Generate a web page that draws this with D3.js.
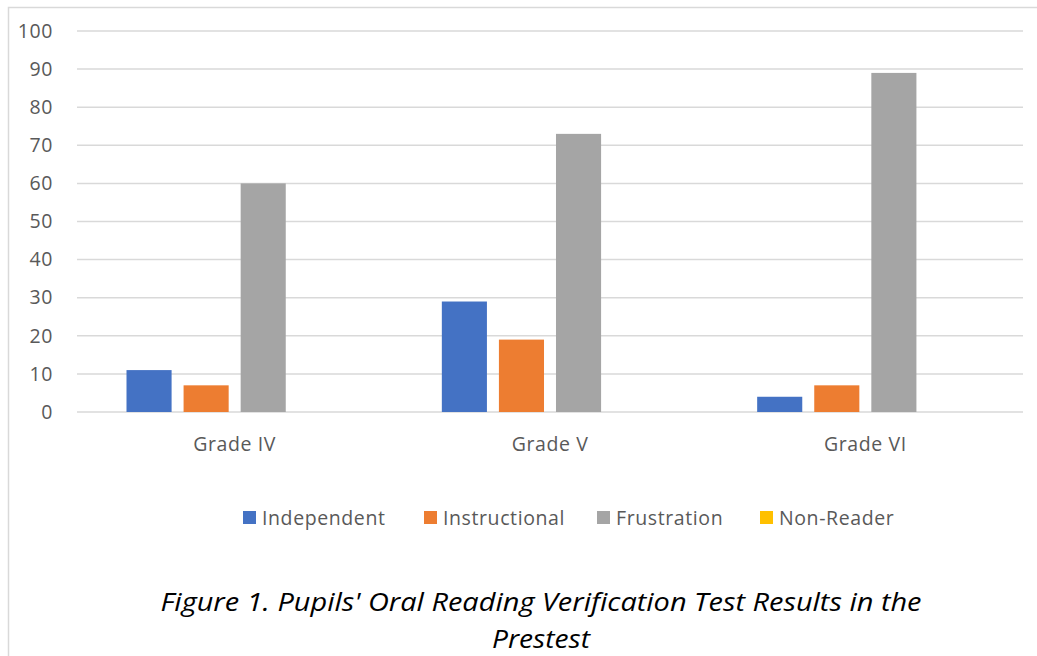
<!DOCTYPE html>
<html><head><meta charset="utf-8">
<script src="https://cdn.jsdelivr.net/npm/d3@7"></script>
<style>body{margin:0;background:#fff}svg{display:block}</style>
</head><body>
<svg id="c" width="1037" height="656"></svg>
<script>
const categories = ["Grade IV", "Grade V", "Grade VI"];
const seriesNames = ["Independent", "Instructional", "Frustration", "Non-Reader"];
const independent = [11, 29, 4];
const instructional = [7, 19, 7];
const frustration = [60, 73, 89];
const nonReader = [0, 0, 0];
const yTicks = [0, 10, 20, 30, 40, 50, 60, 70, 80, 90, 100];
const colors = ["#4472C4", "#ED7D31", "#A5A5A5", "#FFC000"];
const caption = ["Figure 1. Pupils' Oral Reading Verification Test Results in the", "Prestest"];

(function () {
const series = [independent, instructional, frustration, nonReader];
const svg = d3.select("#c");
const font = "'Open Sans', 'Noto Sans', sans-serif";

svg.append("rect").attr("x", 8.5).attr("y", 7.5).attr("width", 1040).attr("height", 660)
  .attr("fill", "none").attr("stroke", "#d9d9d9").attr("stroke-width", 1.5);

const pl = 77, pr = 1023, pt = 31, pb = 412;
const x = d3.scaleBand().domain(categories).range([pl, pr]).paddingInner(0).paddingOuter(0);
const y = d3.scaleLinear().domain([0, 100]).range([pb, pt]);
const inner = d3.scaleBand().domain(seriesNames).range([49.5, x.bandwidth() - 49.5]).paddingInner(0.21);

svg.append("g").selectAll("line").data(yTicks).join("line")
  .attr("x1", pl).attr("x2", pr)
  .attr("y1", d => y(d)).attr("y2", d => y(d))
  .attr("stroke", "#d9d9d9").attr("stroke-width", 1.5);

const yAxis = d3.axisLeft(y).tickValues(yTicks).tickSize(0).tickPadding(0);
const gy = svg.append("g").attr("transform", `translate(${53},0)`).call(yAxis);
gy.select(".domain").remove();
gy.selectAll("text").attr("font-family", font).attr("font-size", 19.5)
  .attr("letter-spacing", 0.6).attr("fill", "#595959");

const groups = svg.append("g").selectAll("g").data(categories).join("g")
  .attr("transform", d => `translate(${x(d)},0)`);
groups.selectAll("rect").data((d, i) => seriesNames.map((s, j) => ({s, v: series[j][i], j})))
  .join("rect")
  .attr("x", d => inner(d.s)).attr("width", inner.bandwidth())
  .attr("y", d => y(d.v)).attr("height", d => y(0) - y(d.v))
  .attr("fill", d => colors[d.j]);

const xAxis = d3.axisBottom(x).tickSize(0).tickPadding(0);
const gx = svg.append("g").attr("transform", `translate(0,${437})`).call(xAxis);
gx.select(".domain").remove();
gx.selectAll("text").attr("font-family", font).attr("font-size", 19.5)
  .attr("letter-spacing", 0.6).attr("fill", "#595959");

const legX = [243, 424, 597, 760];
const leg = svg.append("g").selectAll("g").data(seriesNames).join("g")
  .attr("transform", (d, i) => `translate(${legX[i]},${511})`);
leg.append("rect").attr("width", 13).attr("height", 13).attr("fill", (d, i) => colors[i]);
leg.append("text").attr("x", 19).attr("y", 14).text(d => d)
  .attr("font-family", font).attr("font-size", 19.5).attr("letter-spacing", 0.6).attr("fill", "#595959");

svg.append("g").selectAll("text").data(caption).join("text")
  .attr("x", 541).attr("y", (d, i) => 611 + i * 37)
  .attr("text-anchor", "middle").attr("font-family", font).attr("font-style", "italic")
  .attr("font-size", 26).attr("fill", "#000").attr("textLength", (d, i) => i === 0 ? 761 : 98)
  .attr("lengthAdjust", "spacingAndGlyphs").text(d => d);
})();
</script>
</body></html>
